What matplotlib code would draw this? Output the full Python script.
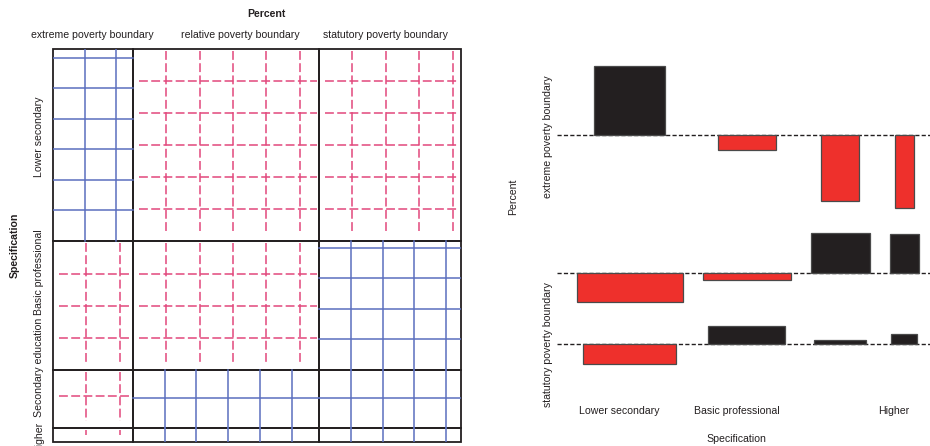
import numpy as np
import matplotlib
matplotlib.use('Agg')
import matplotlib.pyplot as plt
from matplotlib.patches import Rectangle

plt.rcParams['font.family'] = ['Liberation Sans', 'DejaVu Sans']

# categories
education = ['Lower secondary', 'Basic professional', 'Secondary education', 'Higher']
boundary = ['extreme poverty boundary', 'relative poverty boundary', 'statutory poverty boundary']

# mosaic plot: share (%) of education groups (rows) and poverty boundaries (columns)
edu_share = [48.8, 33.0, 14.9, 3.4]
bound_share = [19.6, 45.6, 34.8]

# association plot: residuals per boundary (rows) and education (columns)
resid_extreme = [6.9, -1.5, -6.6, -7.3]
resid_relative = [-2.9, -0.7, 4.0, 3.9]
resid_statutory = [-2.0, 1.8, 0.4, 1.0]
# bar widths (sqrt of expected)
width_extreme = [7.1, 5.8, 3.8, 1.9]
width_relative = [10.6, 8.8, 5.9, 2.9]
width_statutory = [9.3, 7.7, 5.2, 2.6]

W, H = 930, 446
dark = '#231f20'
blue = '#5b6fbf'
pink = '#e2487c'
red = '#ee302c'
fs = 7.6

fig = plt.figure(figsize=(W / 100, H / 100), dpi=100)


def px_box(x0, y0, x1, y1):
    # pixel box (origin top left) -> figure fraction rect
    return [x0 / W, 1 - y1 / H, (x1 - x0) / W, (y1 - y0) / H]


def ftext(px, py, s, **kw):
    fig.text(px / W, 1 - py / H, s, color=dark, fontsize=fs, ha='center', va='center', **kw)


resid = np.array([resid_extreme, resid_relative, resid_statutory])
widths = np.array([width_extreme, width_relative, width_statutory])

# ---------------- mosaic plot ----------------
mx0, my0, mx1, my1 = 52.7, 49.3, 461, 441.7
mw, mh = mx1 - mx0, my1 - my0
ax1 = fig.add_axes(px_box(mx0, my0, mx1, my1))
ax1.set_xlim(0, 1)
ax1.set_ylim(0, 1)
ax1.axis('off')

col_edges = np.concatenate([[0], np.cumsum(bound_share)]) / sum(bound_share)
row_edges = 1 - np.concatenate([[0], np.cumsum(edu_share)]) / sum(edu_share)

for i in range(len(education)):
    for j in range(len(boundary)):
        x0, x1 = col_edges[j], col_edges[j + 1]
        y0, y1 = row_edges[i + 1], row_edges[i]
        if resid[j, i] > 0:
            color, ls, sx, sy = blue, '-', 31.8, 30.5
            vin_top, vin_bot, hin_l, hin_r = 0, 0, 0, 0
        else:
            color, ls, sx, sy = pink, (0, (5.8, 2.2)), 33.4, 32
            vin_top, vin_bot, hin_l, hin_r = 2, 7, 6, 2
        sx /= mw
        sy /= mh
        for x in np.arange(x0 + sx, x1 - 0.004, sx):
            ax1.plot([x, x], [y1 - vin_top / mh, max(y0 + vin_bot / mh, y0)],
                     color=color, ls=ls, lw=1.1)
        for y in np.arange(y0 + sy, y1 - 0.004, sy):
            ax1.plot([x0 + hin_l / mw, x1 - hin_r / mw], [y, y],
                     color=color, ls=ls, lw=1.1)
        ax1.add_patch(Rectangle((x0, y0), x1 - x0, y1 - y0, fill=False,
                                edgecolor=dark, lw=1.3, clip_on=False))

ftext(266, 14, 'Percent', fontweight='bold')
for s, px in zip(boundary, [92, 240, 385]):
    ftext(px, 35, s)
ftext(15, 245, 'Specification', fontweight='bold', rotation=90)
for s, py in zip(education, [137, 272, 367, 437.5]):
    ftext(39, py, s, rotation=90)

# ---------------- association plot ----------------
scale = 10.0
gap_x, gap_y = 2.0, 2.45
col_w = widths.max(axis=0)
col_left = gap_x + np.concatenate([[0], np.cumsum(col_w + gap_x)[:-1]])
col_mid = col_left + col_w / 2
up = np.clip(resid, 0, None).max(axis=1)
down = np.clip(-resid, 0, None).max(axis=1)
row_h = gap_y + up + down
row_top = np.concatenate([[0], np.cumsum(row_h)[:-1]])
base = row_top + gap_y + up
total_x = col_w.sum() + gap_x * (len(col_w) + 1)
total_y = row_h.sum() + gap_y

ax_x0, ax_y0 = 556.7, 41.5
ax2 = fig.add_axes(px_box(ax_x0, ax_y0, ax_x0 + total_x * scale, ax_y0 + total_y * scale))
ax2.set_xlim(0, total_x)
ax2.set_ylim(total_y, 0)
ax2.axis('off')

for k in range(len(boundary)):
    ax2.axhline(base[k], color=dark, ls=(0, (3, 1.6)), lw=1.0, zorder=1)
    colors = [dark if r > 0 else red for r in resid[k]]
    ax2.bar(col_mid, -resid[k], width=widths[k], bottom=base[k], color=colors,
            edgecolor='#4a4a4a', lw=0.9, zorder=2)

row_labels = ['extreme poverty boundary', '', 'statutory poverty boundary']
for k, s in enumerate(row_labels):
    if s:
        mid = base[k] + (down[k] - up[k]) / 2
        ftext(548, ax_y0 + mid * scale, s, rotation=90)

col_labels = ['Lower secondary', 'Basic professional', '', 'Higher']
for k, s in enumerate(col_labels):
    if s:
        mid = col_left[k] + (col_w[k] - gap_x) / 2
        ftext(ax_x0 + mid * scale, 411, s)

ftext(513, 197, 'Percent', rotation=90)
ftext(736, 439, 'Specification')

fig.savefig('out.png', dpi=100)
